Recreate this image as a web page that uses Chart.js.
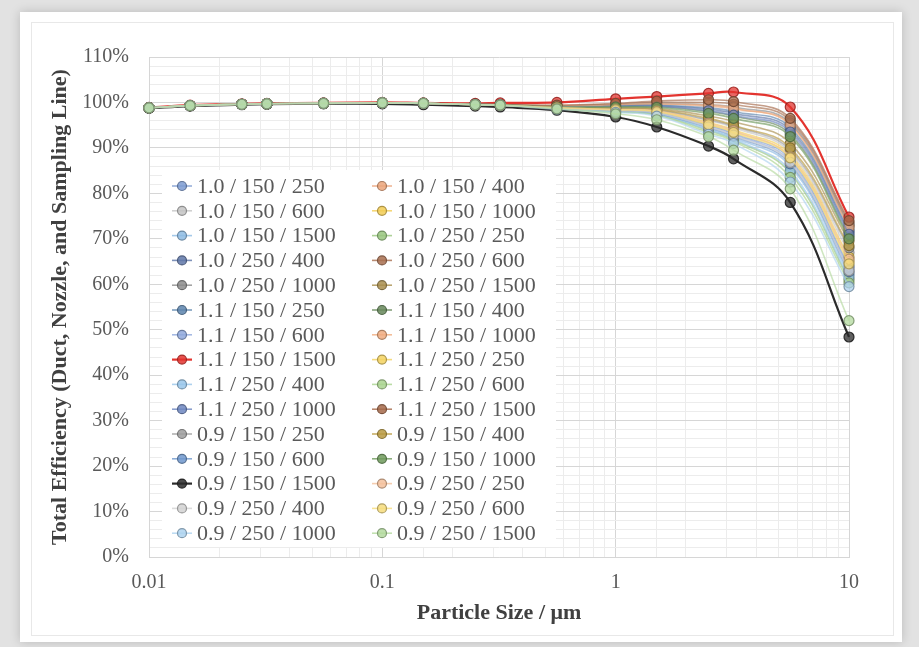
<!DOCTYPE html>
<html>
<head>
<meta charset="utf-8">
<title>Total Efficiency vs Particle Size</title>
<script src="https://cdn.jsdelivr.net/npm/chart.js@4.4.1/dist/chart.umd.min.js"></script>
<style>
html, body { margin: 0; padding: 0; }
body { width: 919px; height: 647px; overflow: hidden; background: #e2e2e2; position: relative; }
#card { position: absolute; left: 20px; top: 12px; width: 882px; height: 630px; background: #fff; box-shadow: 0 0 10px rgba(0,0,0,0.18); }
#frame { position: absolute; left: 31px; top: 22px; width: 861px; height: 612px; border: 1px solid #e8e8e8; }
#chart { position: absolute; left: 0; top: 0; }
</style>
</head>
<body>
<div id="card"></div>
<div id="frame"></div>
<canvas id="chart" width="919" height="647"></canvas>
<script>
// particle sizes (um) on the log x axis
const sizes = [0.01, 0.015, 0.025, 0.032, 0.056, 0.1, 0.15, 0.25, 0.32, 0.56, 1, 1.5, 2.5, 3.2, 5.6, 10];
const xTickLabels = ["0.01", "0.1", "1", "10"];
const yMin = 0;
const yMax = 110;

// total efficiency (%) per series
const s_10_150_250  = [98.8, 99.3, 99.6, 99.7, 99.8, 99.9, 99.8, 99.5, 99.4, 98.7, 98.3, 97.9, 95.0, 93.2, 87.5, 64.0];
const s_10_150_400  = [98.8, 99.3, 99.6, 99.7, 99.8, 99.9, 99.8, 99.6, 99.5, 99.2, 99.4, 99.6, 99.2, 98.6, 95.2, 72.8];
const s_10_150_600  = [98.8, 99.3, 99.6, 99.7, 99.8, 99.9, 99.8, 99.5, 99.4, 98.8, 98.6, 98.3, 96.0, 94.5, 89.0, 67.0];
const s_10_150_1000 = [98.8, 99.3, 99.6, 99.7, 99.8, 99.9, 99.8, 99.5, 99.4, 98.8, 98.5, 98.2, 95.6, 94.0, 88.5, 66.0];
const s_10_150_1500 = [98.8, 99.3, 99.6, 99.7, 99.8, 99.9, 99.8, 99.5, 99.4, 98.7, 98.1, 97.5, 94.2, 92.3, 86.0, 62.2];
const s_10_250_250  = [98.8, 99.3, 99.6, 99.7, 99.8, 99.9, 99.8, 99.5, 99.4, 98.6, 98.0, 97.3, 93.8, 91.8, 84.5, 61.0];
const s_10_250_400  = [98.8, 99.3, 99.6, 99.7, 99.8, 99.9, 99.8, 99.6, 99.5, 99.1, 99.2, 99.3, 98.5, 97.6, 94.0, 71.5];
const s_10_250_600  = [98.8, 99.3, 99.6, 99.7, 99.8, 99.9, 99.8, 99.6, 99.5, 99.3, 99.6, 100.0, 100.0, 99.6, 96.0, 73.5];
const s_10_250_1000 = [98.8, 99.3, 99.6, 99.7, 99.8, 99.9, 99.8, 99.6, 99.5, 99.2, 99.5, 99.8, 99.5, 99.0, 95.5, 73.0];
const s_10_250_1500 = [98.8, 99.3, 99.6, 99.7, 99.8, 99.9, 99.8, 99.6, 99.5, 98.9, 98.9, 98.7, 97.0, 95.8, 91.0, 69.5];
const s_11_150_250  = [98.8, 99.3, 99.6, 99.7, 99.8, 99.9, 99.8, 99.6, 99.5, 99.1, 99.3, 99.4, 98.8, 98.0, 94.5, 72.0];
const s_11_150_400  = [98.8, 99.3, 99.6, 99.7, 99.8, 99.9, 99.8, 99.6, 99.5, 99.0, 99.1, 99.1, 98.0, 97.0, 93.0, 70.5];
const s_11_150_600  = [98.8, 99.3, 99.6, 99.7, 99.8, 99.9, 99.8, 99.5, 99.4, 98.7, 98.3, 97.8, 94.8, 93.0, 87.0, 63.5];
const s_11_150_1000 = [98.8, 99.3, 99.6, 99.7, 99.8, 99.9, 99.8, 99.6, 99.5, 99.2, 99.5, 99.7, 99.4, 98.8, 95.0, 72.5];
const s_11_150_1500 = [98.9, 99.4, 99.7, 99.8, 99.9, 100.0, 99.9, 99.8, 99.9, 100.0, 100.8, 101.3, 102.0, 102.3, 99.0, 74.8];
const s_11_250_250  = [98.8, 99.3, 99.6, 99.7, 99.8, 99.9, 99.8, 99.5, 99.4, 98.8, 98.4, 98.0, 95.2, 93.6, 88.0, 65.0];
const s_11_250_400  = [98.8, 99.3, 99.6, 99.7, 99.8, 99.9, 99.8, 99.5, 99.4, 98.6, 98.0, 97.4, 94.0, 92.0, 85.0, 61.6];
const s_11_250_600  = [98.8, 99.3, 99.6, 99.7, 99.8, 99.9, 99.8, 99.5, 99.4, 98.6, 97.9, 97.2, 93.4, 91.5, 83.5, 60.3];
const s_11_250_1000 = [98.8, 99.3, 99.6, 99.7, 99.8, 99.9, 99.8, 99.6, 99.5, 99.0, 99.1, 99.2, 98.2, 97.2, 93.5, 71.0];
const s_11_250_1500 = [98.8, 99.3, 99.6, 99.7, 99.8, 99.9, 99.8, 99.6, 99.5, 99.4, 99.8, 100.3, 100.6, 100.2, 96.5, 74.0];
const s_09_150_250  = [98.8, 99.3, 99.6, 99.7, 99.8, 99.9, 99.8, 99.5, 99.4, 98.9, 98.7, 98.4, 96.2, 94.8, 89.5, 68.0];
const s_09_150_400  = [98.8, 99.3, 99.6, 99.7, 99.8, 99.9, 99.8, 99.5, 99.4, 98.9, 98.8, 98.5, 96.5, 95.0, 90.0, 68.5];
const s_09_150_600  = [98.8, 99.3, 99.6, 99.7, 99.8, 99.9, 99.8, 99.5, 99.4, 98.7, 98.2, 97.6, 94.5, 92.6, 86.5, 62.8];
const s_09_150_1000 = [98.8, 99.3, 99.6, 99.7, 99.8, 99.9, 99.8, 99.6, 99.5, 99.0, 99.0, 98.9, 97.6, 96.5, 92.5, 70.0];
const s_09_150_1500 = [98.7, 99.2, 99.5, 99.6, 99.7, 99.7, 99.5, 99.2, 99.0, 98.3, 96.8, 94.6, 90.4, 87.6, 78.0, 48.4];
const s_09_250_250  = [98.8, 99.3, 99.6, 99.7, 99.8, 99.9, 99.8, 99.5, 99.4, 98.8, 98.4, 98.1, 95.4, 93.8, 88.0, 65.5];
const s_09_250_400  = [98.8, 99.3, 99.6, 99.7, 99.8, 99.9, 99.8, 99.5, 99.4, 98.7, 98.2, 97.7, 94.6, 92.8, 86.8, 63.0];
const s_09_250_600  = [98.8, 99.3, 99.6, 99.7, 99.8, 99.9, 99.8, 99.5, 99.4, 98.8, 98.4, 98.0, 95.1, 93.4, 87.8, 64.5];
const s_09_250_1000 = [98.8, 99.3, 99.6, 99.7, 99.8, 99.9, 99.8, 99.5, 99.4, 98.5, 97.8, 97.0, 93.0, 91.0, 82.5, 59.5];
const s_09_250_1500 = [98.8, 99.3, 99.6, 99.7, 99.8, 99.9, 99.8, 99.5, 99.4, 98.6, 97.5, 96.2, 92.5, 89.5, 81.0, 52.0];

const seriesNames = [
	"1.0 / 150 / 250", "1.0 / 150 / 400", "1.0 / 150 / 600", "1.0 / 150 / 1000",
	"1.0 / 150 / 1500", "1.0 / 250 / 250", "1.0 / 250 / 400", "1.0 / 250 / 600",
	"1.0 / 250 / 1000", "1.0 / 250 / 1500", "1.1 / 150 / 250", "1.1 / 150 / 400",
	"1.1 / 150 / 600", "1.1 / 150 / 1000", "1.1 / 150 / 1500", "1.1 / 250 / 250",
	"1.1 / 250 / 400", "1.1 / 250 / 600", "1.1 / 250 / 1000", "1.1 / 250 / 1500",
	"0.9 / 150 / 250", "0.9 / 150 / 400", "0.9 / 150 / 600", "0.9 / 150 / 1000",
	"0.9 / 150 / 1500", "0.9 / 250 / 250", "0.9 / 250 / 400", "0.9 / 250 / 600",
	"0.9 / 250 / 1000", "0.9 / 250 / 1500",
];
const seriesValues = [
	s_10_150_250, s_10_150_400, s_10_150_600, s_10_150_1000, s_10_150_1500,
	s_10_250_250, s_10_250_400, s_10_250_600, s_10_250_1000, s_10_250_1500,
	s_11_150_250, s_11_150_400, s_11_150_600, s_11_150_1000, s_11_150_1500,
	s_11_250_250, s_11_250_400, s_11_250_600, s_11_250_1000, s_11_250_1500,
	s_09_150_250, s_09_150_400, s_09_150_600, s_09_150_1000, s_09_150_1500,
	s_09_250_250, s_09_250_400, s_09_250_600, s_09_250_1000, s_09_250_1500,
];

// styles
const seriesColors = [
	"#7d9bd1", "#eba47a", "#c4c4c4", "#f2cc55", "#8dbbe3", "#98c67e",
	"#5f77a8", "#a86e4f", "#8c8c8c", "#a98e4e", "#5c84ad", "#66875a",
	"#8fa8dc", "#f0ac80", "#e3342f", "#f3d260", "#98c5ea", "#a9d38e",
	"#6d86bf", "#a5694a", "#9c9c9c", "#b8993f", "#6e97cc", "#6f9a5c",
	"#2b2b2b", "#f3c09b", "#d2d2d2", "#f6dc7c", "#add2ef", "#b3d99e",
];
const strongSeries = [14, 24]; // red and black are drawn heavier

function alpha(hex, a, k) {
	const n = parseInt(hex.slice(1), 16);
	const f = k || 1;
	const r = Math.round((n >> 16) * f);
	const g = Math.round(((n >> 8) & 255) * f);
	const b = Math.round((n & 255) * f);
	return "rgba(" + r + "," + g + "," + b + "," + a + ")";
}
function isDecade(v) {
	const l = Math.log10(v);
	return Math.abs(l - Math.round(l)) < 1e-6;
}

const datasets = seriesValues.map((vals, i) => {
	const strong = strongSeries.includes(i);
	const c = seriesColors[i];
	return {
		label: seriesNames[i],
		data: vals.map((v, j) => ({ x: sizes[j], y: v })),
		borderColor: strong ? c : alpha(c, 0.65),
		borderWidth: strong ? 2.2 : 1.6,
		backgroundColor: alpha(c, 0.8),
		pointBackgroundColor: alpha(c, 0.75),
		pointBorderColor: alpha(c, 0.9, 0.68),
		pointBorderWidth: 1.2,
		pointRadius: 5,
		tension: 0.4,
		clip: false,
		// like Excel, later series are painted over earlier ones
		order: seriesValues.length - i,
	};
});

// legend drawn as a 2-column white box inside the plot
const legendBox = {
	id: "legendBox",
	afterDatasetsDraw(chart) {
		const ctx = chart.ctx;
		ctx.save();
		ctx.fillStyle = "#ffffff";
		ctx.fillRect(162, 170, 394, 377);
		ctx.font = "22px 'Liberation Serif'";
		ctx.textBaseline = "middle";
		ctx.textAlign = "left";
		seriesNames.forEach((name, i) => {
			const col = i % 2;
			const row = Math.floor(i / 2);
			const mx = 182 + col * 200;
			const my = 186 + row * 24.8;
			const c = seriesColors[i];
			const strong = strongSeries.includes(i);
			ctx.strokeStyle = strong ? c : alpha(c, 0.8);
			ctx.lineWidth = strong ? 2.2 : 1.6;
			ctx.beginPath();
			ctx.moveTo(mx - 10, my);
			ctx.lineTo(mx + 10, my);
			ctx.stroke();
			ctx.fillStyle = alpha(c, 0.85);
			ctx.strokeStyle = alpha(c, 0.9, 0.68);
			ctx.lineWidth = 1.2;
			ctx.beginPath();
			ctx.arc(mx, my, 4.5, 0, Math.PI * 2);
			ctx.fill();
			ctx.stroke();
			ctx.fillStyle = "#595959";
			ctx.fillText(name, mx + 15, my + 1);
		});
		ctx.restore();
	},
};

Chart.defaults.font.family = "'Liberation Serif', 'Times New Roman', serif";

const ctx = document.getElementById("chart").getContext("2d");
new Chart(ctx, {
	type: "line",
	data: { datasets: datasets },
	plugins: [legendBox],
	options: {
		responsive: false,
		animation: false,
		layout: { padding: { left: 40, right: 70, top: 57, bottom: 10 } },
		plugins: {
			legend: { display: false },
			tooltip: { enabled: false },
		},
		scales: {
			x: {
				type: "logarithmic",
				min: 0.01,
				max: 10,
				afterFit: (s) => { s.height = 80; },
				grid: {
					color: (c) => (c.tick && isDecade(c.tick.value) ? "#d6d6d6" : "#ececec"),
					drawTicks: false,
				},
				border: { color: "#d6d6d6" },
				ticks: {
					autoSkip: false,
					maxRotation: 0,
					padding: 14,
					color: "#595959",
					font: { size: 20 },
					callback: (v) => (isDecade(v) ? xTickLabels[Math.round(Math.log10(v)) + 2] : ""),
				},
				title: {
					display: true,
					text: "Particle Size / μm",
					color: "#404040",
					font: { size: 22, weight: "bold" },
					padding: { top: 0, bottom: 10 },
				},
			},
			y: {
				min: yMin,
				max: yMax,
				afterFit: (s) => { s.width = 109; },
				grid: {
					color: (c) => (c.tick && c.tick.value % 10 === 0 ? "#d6d6d6" : "#ececec"),
					drawTicks: false,
				},
				border: { color: "#d6d6d6" },
				ticks: {
					stepSize: 2,
					autoSkip: false,
					padding: 20,
					color: "#595959",
					font: { size: 20 },
					callback: (v) => (v % 10 === 0 ? v + "%" : ""),
				},
				title: {
					display: true,
					text: "Total Efficiency (Duct, Nozzle, and Sampling Line)",
					color: "#404040",
					font: { size: 22, weight: "bold" },
					padding: { top: 7, bottom: 0 },
				},
			},
		},
	},
});
</script>
</body>
</html>
